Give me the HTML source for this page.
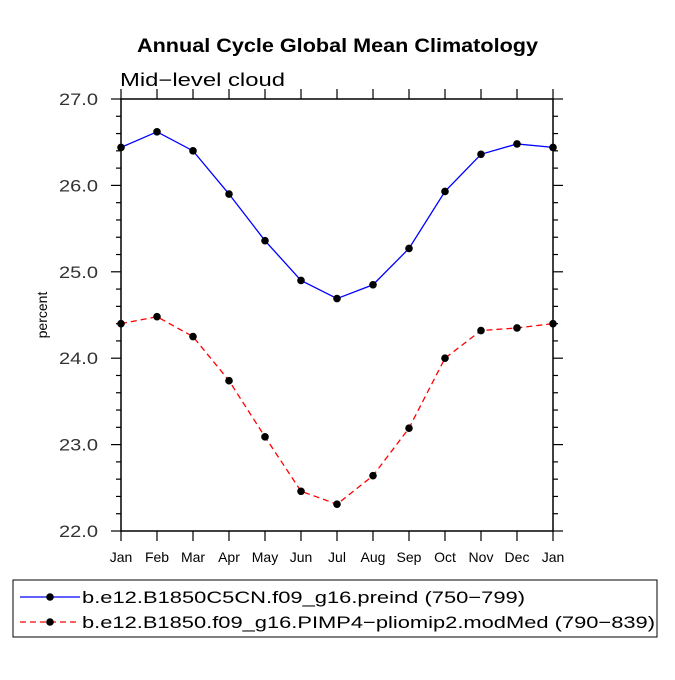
<!DOCTYPE html>
<html><head><meta charset="utf-8"><style>
body{margin:0;background:#fff;}
svg text{font-family:"Liberation Sans",sans-serif;}
</style></head><body>
<svg width="675" height="675" viewBox="0 0 675 675">
<text x="137" y="52" font-size="19" font-weight="bold" textLength="401" lengthAdjust="spacingAndGlyphs">Annual Cycle Global Mean Climatology</text>
<text x="120" y="86" font-size="18" textLength="165" lengthAdjust="spacingAndGlyphs">Mid−level cloud</text>
<text x="47" y="315" font-size="14" text-anchor="middle" transform="rotate(-90 47 315)">percent</text>
<g id="axes"></g>
<g id="series"></g>
<rect x="13" y="580" width="644" height="57" fill="none" stroke="#000" stroke-width="1"/>
<g>
<line x1="20" y1="597" x2="80" y2="597" stroke="#00f" stroke-width="1.3"/>
<circle cx="50" cy="597" r="3.8" fill="#000"/>
<text x="82" y="603" font-size="17" textLength="443" lengthAdjust="spacingAndGlyphs">b.e12.B1850C5CN.f09_g16.preind (750−799)</text>
</g>
<g>
<line x1="20" y1="622" x2="80" y2="622" stroke="#f00" stroke-width="1.3" stroke-dasharray="6,4"/>
<circle cx="50" cy="622" r="3.8" fill="#000"/>
<text x="82" y="628" font-size="17" textLength="573" lengthAdjust="spacingAndGlyphs">b.e12.B1850.f09_g16.PIMP4−pliomip2.modMed (790−839)</text>
</g>
</svg>
<script>
const months=["Jan","Feb","Mar","Apr","May","Jun","Jul","Aug","Sep","Oct","Nov","Dec","Jan"];
const blueVals=[26.44,26.62,26.40,25.90,25.36,24.90,24.69,24.85,25.27,25.93,26.36,26.48,26.44];
const redVals=[24.40,24.48,24.25,23.74,23.09,22.46,22.31,22.64,23.19,24.00,24.32,24.35,24.40];
const yTicks=[22,23,24,25,26,27];
const yLabels=["22.0","23.0","24.0","25.0","26.0","27.0"];
const X0=121,X1=553,Y0=531,Y1=99,YMIN=22,YMAX=27;
const NS="http://www.w3.org/2000/svg";
function xs(i){return X0+(X1-X0)*i/(months.length-1);}
function ys(v){return Y0-(v-YMIN)/(YMAX-YMIN)*(Y0-Y1);}
function mk(tag,attrs,parent){const e=document.createElementNS(NS,tag);for(const k in attrs)e.setAttribute(k,attrs[k]);parent.appendChild(e);return e;}
const ax=document.getElementById('axes');
const frame=mk('rect',{x:X0,y:Y1,width:X1-X0,height:Y0-Y1,fill:'none',stroke:'#000','stroke-width':1.5},ax);


for(let v=YMIN;v<=YMAX+1e-9;v+=0.2){
  const y=ys(v);const major=Math.abs(v-Math.round(v))<1e-6;const L=major?10:5;
  mk('line',{x1:X0-L,y1:y,x2:X0,y2:y,stroke:'#000','stroke-width':1.2},ax);
  mk('line',{x1:X1,y1:y,x2:X1+L,y2:y,stroke:'#000','stroke-width':1.2},ax);
}
yTicks.forEach((v,i)=>{
  const t=mk('text',{x:X0-22,y:ys(v)+6,'text-anchor':'end','font-size':17,fill:'#333',textLength:39,lengthAdjust:'spacingAndGlyphs'},ax);
  t.setAttribute('x',X0-23);
  t.removeAttribute('text-anchor');
  t.setAttribute('x',X0-62);
  t.textContent=yLabels[i];
  
  
});
months.forEach((m,i)=>{
  const x=xs(i);
  mk('line',{x1:x,y1:Y0,x2:x,y2:Y0+10,stroke:'#000','stroke-width':1.2},ax);
  mk('line',{x1:x,y1:Y1-10,x2:x,y2:Y1,stroke:'#000','stroke-width':1.2},ax);
  const t=mk('text',{x:x,y:Y0+31,'text-anchor':'middle','font-size':14},ax);
  t.textContent=m;
  
  
});
const sg=document.getElementById('series');
function drawSeries(vals,color,dash,name){
  const g=mk('g',{},sg);
  
  
  const pts=vals.map((v,i)=>xs(i)+','+ys(v)).join(' ');
  const a={points:pts,fill:'none',stroke:color,'stroke-width':1.3};
  if(dash)a['stroke-dasharray']=dash;
  mk('polyline',a,g);
  vals.forEach((v,i)=>{
    const c=mk('circle',{cx:xs(i),cy:ys(v),r:3.8,fill:'#000'},g);
    
    
  });
}
drawSeries(blueVals,'#00f',null,'series-preind');
drawSeries(redVals,'#f00','6,4','series-pliomip2');
</script>
</body></html>
